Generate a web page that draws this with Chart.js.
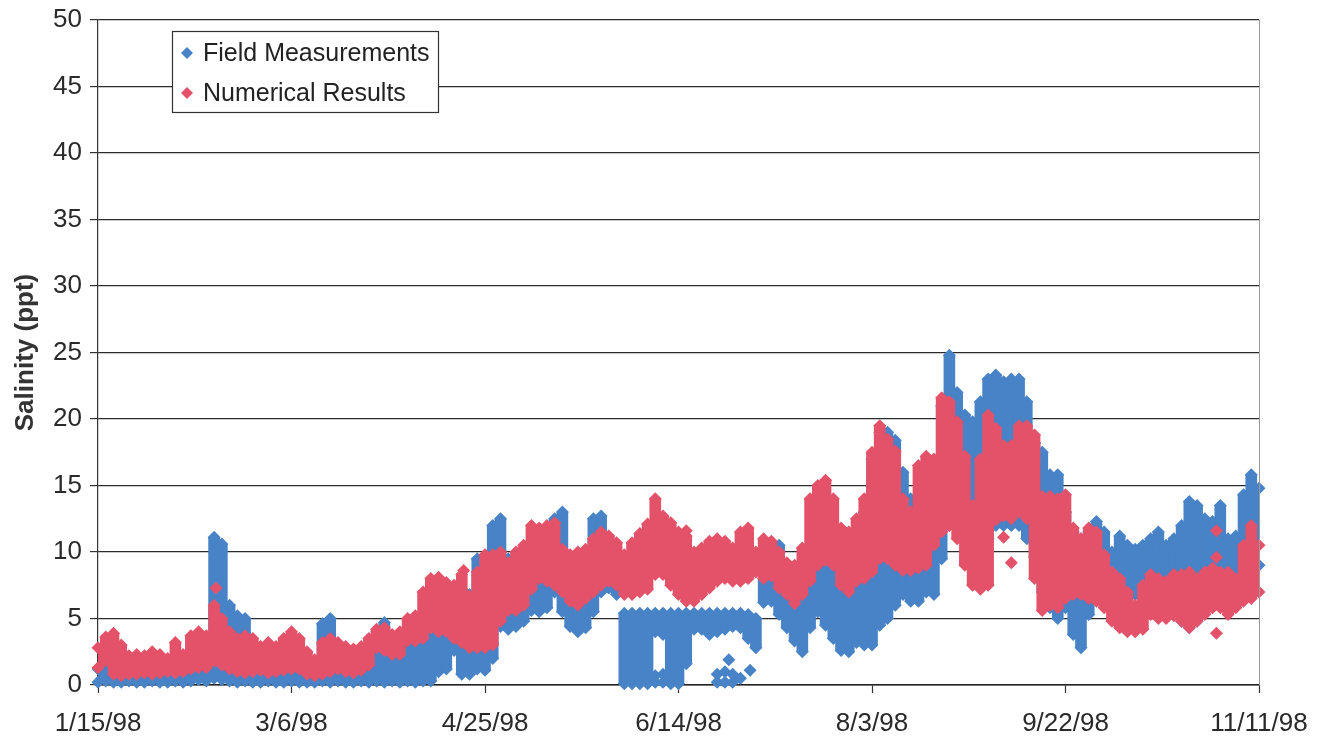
<!DOCTYPE html>
<html>
<head>
<meta charset="utf-8">
<title>Salinity</title>
<script src="https://cdn.jsdelivr.net/npm/chart.js@4/dist/chart.umd.min.js"></script>
<style>
  html, body { margin: 0; padding: 0; background: #fff; }
  #wrap { width: 1331px; height: 744px; }
</style>
</head>
<body>
<div id="wrap"><canvas id="salinityChart" width="1331" height="744"></canvas></div>
<script>
// x ticks every 50 days starting 1/15/98
const tickLabels = ["1/15/98", "3/6/98", "4/25/98", "6/14/98", "8/3/98", "9/22/98", "11/11/98"];
const seriesNames = ["Field Measurements", "Numerical Results"];
const STEP_DAYS = 2; // one sample every 2 days, day 0 = 1/15/98

// daily envelope of the field record (low / high), ppt
const fieldLow = [
  0.2, 0.3, 0.2, 0.2, 0.3, 0.2, 0.2, 0.3, 0.2, 0.2,
  0.3, 0.2, 0.3, 0.4, 0.3, 0.5, 0.4, 0.3, 0.2, 0.3,
  0.2, 0.2, 0.3, 0.2, 0.2, 0.3, 0.2, 0.2, 0.2, 0.3,
  0.2, 0.3, 0.2, 0.2, 0.3, 0.2, 0.3, 0.2, 0.3, 0.2,
  0.3, 0.2, 0.3, 0.3, 1.0, 1.2, 2.6, 0.8, 0.8, 1.2,
  1.1, 2.0, 4.4, 4.2, 4.4, 4.8, 5.6, 5.5, 5.8, 7.0,
  5.5, 4.4, 4.0, 4.3, 5.5, 7.0, 7.3, 6.8, 0.1, 0.1,
  0.1, 0.1, 4.0, 3.8, 0.1, 0.1, 1.6, 4.2, 4.2, 3.8,
  4.0, 4.2, 4.4, 4.3, 3.5, 2.8, 6.2, 6.3, 5.3, 4.3,
  3.3, 2.5, 4.3, 5.5, 4.5, 3.5, 2.6, 2.5, 3.2, 3.0,
  3.0, 4.5, 5.0, 6.0, 6.8, 6.3, 6.3, 7.0, 6.8, 9.5,
  12.0, 12.0, 12.1, 11.6, 11.5, 11.0, 12.0, 12.0, 12.0, 12.0,
  11.0, 9.6, 7.0, 5.8, 5.0, 5.8, 3.8, 2.8, 5.3, 6.8,
  7.8, 7.3, 7.8, 6.3, 6.8, 7.0, 6.0, 6.0, 6.0, 5.5,
  4.8, 4.3, 4.8, 6.0, 6.0, 6.5, 6.0, 6.0, 7.5, 8.0,
  9.0
];
const fieldHigh = [
  1.2, 1.8, 1.2, 1.0, 1.2, 1.3, 1.3, 1.2, 1.3, 1.4,
  1.3, 1.5, 1.6, 1.8, 2.2, 11.1, 10.6, 6.0, 5.2, 5.0,
  2.0, 1.8, 1.6, 1.6, 1.7, 1.8, 1.6, 1.3, 1.2, 4.6,
  5.0, 1.9, 1.7, 1.6, 1.8, 2.2, 4.0, 4.7, 2.8, 2.9,
  3.5, 3.6, 3.8, 4.2, 4.4, 4.6, 5.5, 7.2, 6.8, 9.5,
  9.6, 12.0, 12.5, 9.5, 8.0, 8.0, 8.0, 8.5, 9.0, 12.5,
  13.0, 9.0, 9.0, 9.0, 12.5, 12.7, 10.5, 9.0, 5.4, 5.4,
  5.4, 5.4, 5.4, 5.4, 5.4, 5.4, 5.4, 5.4, 5.4, 5.4,
  5.4, 5.4, 5.4, 5.4, 5.3, 5.0, 9.0, 10.5, 10.5, 8.5,
  8.0, 8.0, 9.0, 10.0, 10.5, 10.0, 9.0, 8.5, 10.0, 13.0,
  17.0, 19.0, 19.0, 18.4, 16.0, 14.0, 12.5, 13.0, 15.0, 21.0,
  24.8, 22.0, 20.3, 19.8, 21.3, 23.0, 23.3, 22.8, 23.0, 23.0,
  21.3, 18.2, 17.5, 15.8, 15.8, 13.0, 11.5, 11.0, 11.5, 12.3,
  11.5, 10.0, 11.2, 10.5, 10.2, 10.5, 11.0, 11.5, 10.5, 11.0,
  12.0, 13.8, 13.5, 12.5, 12.3, 13.5, 11.0, 11.2, 14.3, 15.8,
  14.8
];
// model envelope (low / high), ppt
const modelLow = [
  1.3, 1.8, 0.8, 0.7, 0.8, 0.8, 0.9, 0.8, 0.9, 1.0,
  0.9, 1.0, 1.2, 1.3, 1.3, 1.8, 1.5, 1.2, 1.0, 0.9,
  1.0, 1.1, 0.9, 1.0, 1.1, 1.2, 1.2, 0.8, 0.7, 0.8,
  1.0, 1.2, 1.0, 0.9, 1.1, 1.5, 2.8, 2.6, 2.3, 2.3,
  3.3, 3.3, 3.5, 4.3, 4.0, 4.0, 3.5, 3.2, 2.8, 2.8,
  2.8, 3.0, 4.8, 5.6, 5.6, 6.0, 7.2, 8.0, 7.8, 7.5,
  7.0, 6.3, 6.0, 6.5, 7.0, 7.5, 7.8, 7.5, 6.8, 6.8,
  7.0, 7.2, 8.3, 8.3, 7.5, 6.8, 6.3, 6.3, 6.8, 7.3,
  7.8, 8.0, 7.8, 7.8, 8.0, 8.5, 8.0, 8.2, 7.3, 6.8,
  6.1, 6.8, 7.8, 9.0, 9.4, 9.0, 7.5, 7.0, 7.8, 8.0,
  8.5, 9.5, 9.5, 9.0, 8.6, 8.6, 8.8, 9.0, 10.5, 11.5,
  12.0, 11.0, 9.0, 7.5, 7.2, 7.5, 12.4, 12.7, 12.5, 13.0,
  12.5, 8.0, 5.6, 6.0, 5.8, 6.5, 6.8, 6.8, 6.5, 6.3,
  5.8, 4.8, 4.3, 4.0, 4.0, 4.2, 5.3, 5.0, 5.0, 5.2,
  4.8, 4.3, 4.8, 5.3, 5.8, 5.8, 5.3, 5.8, 6.3, 6.5,
  7.0
];
const modelHigh = [
  2.8, 3.6, 3.9, 3.0, 2.2, 2.3, 2.2, 2.5, 2.3, 2.0,
  3.2, 2.3, 3.7, 4.0, 3.7, 6.0, 5.0, 4.0, 3.5, 3.7,
  3.5, 2.9, 3.2, 2.9, 3.5, 4.0, 3.5, 2.5, 1.9, 3.2,
  3.5, 3.2, 2.9, 2.7, 2.9, 3.5, 4.2, 4.3, 3.8, 4.0,
  5.0, 5.2, 7.0, 8.0, 8.1, 7.7, 7.5, 8.3, 6.7, 8.5,
  9.8, 9.8, 10.0, 9.2, 10.0, 10.5, 12.0, 11.8, 12.0, 12.2,
  10.2, 9.8, 10.0, 10.2, 11.0, 11.5, 11.2, 10.7, 9.8, 10.7,
  11.4, 12.1, 14.0, 12.7, 12.2, 11.5, 11.2, 10.0, 10.3, 10.8,
  11.0, 10.8, 10.3, 11.5, 11.8, 10.0, 11.0, 10.8, 10.0, 9.2,
  9.0, 10.3, 14.0, 15.0, 15.4, 14.0, 11.8, 11.5, 12.5, 14.0,
  17.5, 19.5, 18.5, 17.6, 14.0, 13.0, 16.5, 17.2, 17.0, 21.6,
  21.3, 19.8, 17.2, 13.5, 17.0, 20.3, 19.3, 18.0, 18.0, 19.5,
  19.5, 18.8, 14.2, 14.2, 14.0, 14.3, 11.8, 11.0, 11.8, 11.5,
  9.8, 8.5, 8.0, 7.0, 6.0, 7.5, 8.3, 8.0, 7.8, 8.3,
  8.3, 8.5, 8.0, 8.5, 8.8, 8.5, 8.5, 8.0, 10.5, 12.0,
  10.5
];
// isolated readings that sit off the envelopes: [day, ppt]
const fieldSpots = [
  [144, 0.2], [144, 0.7], [146, 0.2], [146, 0.8], [160, 0.2], [160, 0.8],
  [162, 0.2], [162, 1.0], [163, 1.9], [164, 0.2], [164, 0.8], [166, 0.5], [168.5, 1.1]
];
const modelSpots = [
  [30.5, 7.3], [94.5, 8.6], [152, 11.6], [234, 11.1], [236, 9.2],
  [289, 11.6], [289, 9.6], [289, 3.9]
];

const BLUE = "#4783c6";
const RED = "#e4526a";
const FONT = "'Liberation Sans', Arial, sans-serif";

const bandData = (lo, hi) => lo.map((v, i) => ({ x: i * STEP_DAYS, y: [v, hi[i]] }));
const pointData = (lo, hi, spots) => {
  const pts = [];
  lo.forEach((v, i) => {
    pts.push({ x: i * STEP_DAYS, y: v });
    pts.push({ x: i * STEP_DAYS, y: hi[i] });
  });
  spots.forEach(([d, v]) => pts.push({ x: d, y: v }));
  return pts;
};

const barStyle = (color, order) => ({
  type: "bar",
  backgroundColor: color,
  borderWidth: 0,
  barThickness: 11,
  grouped: false,
  order: order,
});
const pointStyle = (color, order) => ({
  type: "scatter",
  pointStyle: "rectRot",
  pointRadius: 6.5,
  pointHoverRadius: 6.5,
  pointBackgroundColor: color,
  pointBorderWidth: 0,
  showLine: false,
  clip: false,
  order: order,
});

// legend box drawn inside the plot, plus the thin right border
const frameAndLegend = {
  id: "frameAndLegend",
  afterDraw(chart) {
    const { ctx, chartArea } = chart;
    ctx.save();
    ctx.strokeStyle = "#9a9a9a";
    ctx.lineWidth = 1;
    ctx.beginPath();
    ctx.moveTo(chartArea.right + 0.5, chartArea.top);
    ctx.lineTo(chartArea.right + 0.5, chartArea.bottom);
    ctx.stroke();

    const x = chartArea.left + 74;
    const y = chartArea.top + 11;
    const w = 266, h = 81;
    ctx.fillStyle = "#fff";
    ctx.fillRect(x, y, w, h);
    ctx.strokeStyle = "#333";
    ctx.lineWidth = 1.2;
    ctx.strokeRect(x + 0.5, y + 0.5, w, h);

    const colors = [BLUE, RED];
    seriesNames.forEach((name, i) => {
      const cy = y + 22 + i * 40;
      const cx = x + 15;
      ctx.fillStyle = colors[i];
      ctx.beginPath();
      ctx.moveTo(cx, cy - 6);
      ctx.lineTo(cx + 6, cy);
      ctx.lineTo(cx, cy + 6);
      ctx.lineTo(cx - 6, cy);
      ctx.closePath();
      ctx.fill();
      ctx.fillStyle = "#222";
      ctx.font = "25px " + FONT;
      ctx.textBaseline = "middle";
      ctx.fillText(name, cx + 16, cy + 1);
    });
    ctx.restore();
  },
};

const ctx = document.getElementById("salinityChart").getContext("2d");
new Chart(ctx, {
  type: "bar",
  data: {
    datasets: [
      { label: seriesNames[1], data: pointData(modelLow, modelHigh, modelSpots), ...pointStyle(RED, 0) },
      { label: seriesNames[1] + " band", data: bandData(modelLow, modelHigh), ...barStyle(RED, 1) },
      { label: seriesNames[0], data: pointData(fieldLow, fieldHigh, fieldSpots), ...pointStyle(BLUE, 2) },
      { label: seriesNames[0] + " band", data: bandData(fieldLow, fieldHigh), ...barStyle(BLUE, 3) },
    ],
  },
  options: {
    responsive: false,
    animation: false,
    layout: { padding: { top: 20, right: 72, left: 0, bottom: 0 } },
    plugins: {
      legend: { display: false },
      tooltip: { enabled: false },
    },
    scales: {
      x: {
        type: "linear",
        min: 0,
        max: 300,
        offset: false,
        grid: { drawOnChartArea: false, drawTicks: true, tickLength: 8, tickColor: "#333", tickWidth: 1.2, offset: false },
        border: { display: true, color: "#222", width: 1.5 },
        ticks: {
          stepSize: 50,
          padding: 15,
          color: "#2a2a2a",
          font: { family: FONT, size: 26 },
          maxRotation: 0,
          callback: (v) => tickLabels[v / 50],
        },
        afterFit: (scale) => { scale.height = 59; },
      },
      y: {
        min: 0,
        max: 50,
        grid: { color: "#2b2b2b", lineWidth: 1.2, drawTicks: true, tickLength: 8, tickColor: "#333" },
        border: { display: true, color: "#333", width: 1.2 },
        ticks: {
          stepSize: 5,
          padding: 8,
          color: "#2a2a2a",
          font: { family: FONT, size: 26 },
        },
        title: {
          display: true,
          text: "Salinity (ppt)",
          color: "#333",
          font: { family: FONT, size: 26, weight: "bold" },
          padding: { top: 10, bottom: 0 },
        },
        afterFit: (scale) => {
          scale.width = 98;
          scale.paddingTop = 0;
        },
      },
    },
  },
  plugins: [frameAndLegend],
});
</script>
</body>
</html>
